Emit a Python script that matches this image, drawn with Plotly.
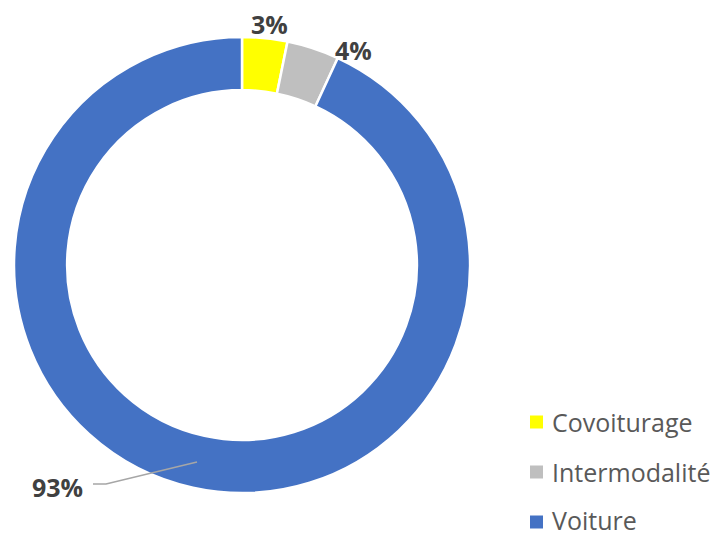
import plotly.graph_objects as go

categories = ["Covoiturage", "Intermodalité", "Voiture"]
values = [3.2, 3.7, 93.1]
colors = ["#FFFF00", "#BFBFBF", "#4472C4"]
pct_labels = [f"{round(v)}%" for v in values]

W, H = 728, 539
def px(x):
    return x / W
def py(y):
    return 1 - y / H

fig = go.Figure()
fig.add_trace(go.Pie(
    labels=categories, values=values, sort=False, direction="clockwise", rotation=0,
    hole=0.767, marker=dict(colors=colors, line=dict(color="white", width=2.5)),
    textinfo="none", hoverinfo="label+percent", showlegend=False,
    domain=dict(x=[px(14), px(470)], y=[py(493), py(37)]),
))

label_pos = [(269, 24), (353, 50), (58, 487)]
annotations = []
for (lx, ly), t in zip(label_pos, pct_labels):
    annotations.append(dict(x=px(lx), y=py(ly), xref="paper", yref="paper", text=f"<b>{t}</b>",
                            showarrow=False, font=dict(family="Open Sans", size=25, color="#404040"),
                            xanchor="center", yanchor="middle"))

shapes = [dict(type="path", xref="paper", yref="paper",
               path=f"M {px(93)} {py(484)} L {px(106)} {py(484)} L {px(197)} {py(462)}",
               line=dict(color="#A6A6A6", width=1.5))]

legend_y = [422, 472, 522]
for cat, col, ly in zip(categories, colors, legend_y):
    shapes.append(dict(type="rect", xref="paper", yref="paper",
                       x0=px(530), x1=px(543), y0=py(ly + 6.5), y1=py(ly - 6.5),
                       fillcolor=col, line=dict(width=0)))
    annotations.append(dict(x=px(551), y=py(min(ly, 520)), xref="paper", yref="paper", text=cat,
                            showarrow=False, font=dict(family="Open Sans", size=25, color="#595959"),
                            xanchor="left", yanchor="middle", borderpad=0))

fig.update_layout(width=W, height=H, margin=dict(l=0, r=0, t=0, b=0),
                  paper_bgcolor="white", plot_bgcolor="white",
                  annotations=annotations, shapes=shapes)
fig.write_html("out.html")
